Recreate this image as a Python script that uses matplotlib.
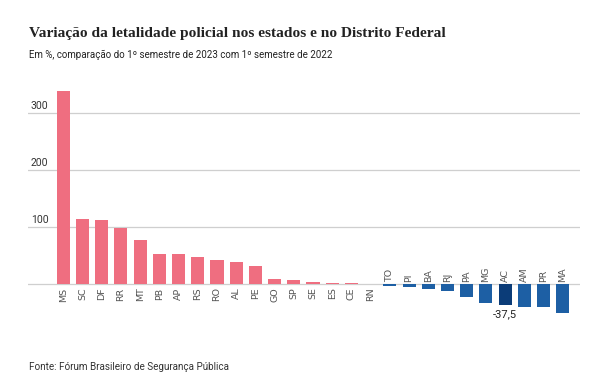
import matplotlib
matplotlib.use("Agg")
import matplotlib.pyplot as plt
import matplotlib.transforms as mtransforms

narrow = "Roboto"

states = ["MS", "SC", "DF", "RR", "MT", "PB", "AP", "RS", "RO", "AL", "PE", "GO", "SP", "SE", "ES", "CE", "RN",
          "TO", "PI", "BA", "RJ", "PA", "MG", "AC", "AM", "PR", "MA"]
values = [338, 114, 112, 99, 77, 53, 53, 47, 42, 38.5, 31.5, 9, 7, 3.5, 2, 1.5, 0,
          -3.5, -5.8, -8, -13, -23.5, -34, -37.5, -39.5, -41, -50]
yticks = [100, 200, 300]
highlight = "AC"
highlight_label = "-37,5"

pink = "#EF6E80"
blue = "#1D5FA4"
dark = "#0B3C78"

fig = plt.figure(figsize=(5.97, 3.80), dpi=100)
ax = fig.add_axes([28/597, 1-329.6/380, 552/597, 245.1/380])
ax.set_xlim(-1.84, 26.9)
ax.set_ylim(-80, 350)

colors = []
for s, v in zip(states, values):
    if v >= 0:
        colors.append(pink)
    elif s == highlight:
        colors.append(dark)
    else:
        colors.append(blue)
x = list(range(len(states)))
ax.bar(x, values, width=0.68, color=colors, zorder=2)

for t in yticks:
    ax.axhline(t, color="#cfcfcf", lw=0.9, zorder=1)
    ax.text(0.005, t + 4, str(t), transform=mtransforms.blended_transform_factory(ax.transAxes, ax.transData),
            ha="left", va="bottom", fontsize=7.5, color="#333333", family=narrow)
ax.axhline(0, color="#cfcfcf", lw=0.9, zorder=1)

for xi, s, v in zip(x, states, values):
    if v >= 0:
        ax.text(xi, -6, s, rotation=90, ha="center", va="top", fontsize=6.8, color="#555555", family="DejaVu Sans")
    else:
        ax.text(xi, 4, s, rotation=90, ha="center", va="bottom", fontsize=6.8, color="#555555", family="DejaVu Sans")
    if s == highlight:
        ax.text(xi, v - 6, highlight_label, ha="center", va="top", fontsize=8, color="#222222", family=narrow)

for sp in ax.spines.values():
    sp.set_visible(False)
ax.set_xticks([])
ax.set_yticks([])

fig.text(29/597, 1-33/380, "Variação da letalidade policial nos estados e no Distrito Federal",
         fontsize=11.1, fontweight="bold", family="Liberation Serif", color="#222222", va="center", ha="left")
fig.text(29/597, 1-55/380, "Em %, comparação do 1º semestre de 2023 com 1º semestre de 2022",
         fontsize=7.0, family=narrow, color="#222222", va="center", ha="left")
fig.text(29/597, 1-367/380, "Fonte: Fórum Brasileiro de Segurança Pública",
         fontsize=7.1, family=narrow, color="#333333", va="center", ha="left")

fig.savefig("out.png", dpi=100)
